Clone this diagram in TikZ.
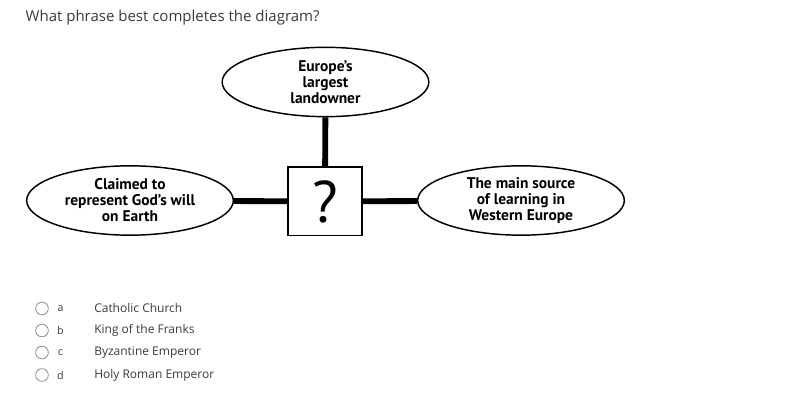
\documentclass[tikz,border=0pt]{standalone}
\usepackage{fontspec}
\setmainfont{Open Sans}
\newfontfamily\boxfont{PT Sans}
\usetikzlibrary{shapes.geometric}
\definecolor{textgray}{HTML}{3A3A3A}
\definecolor{radiogray}{HTML}{8A8A8A}
\newcommand{\makeoption}[4]{
	\node[radio] (#1) at (42,#2) {};
	\node[letter] (#1l) at (60.5,#2) {#3};
	\node[answer] (#1t) at (94,#2) {#4};
}

\begin{document}
\begin{tikzpicture}[x=0.75pt,y=-0.75pt,
	idea/.style={ellipse, draw, line width=1.1pt, inner sep=0pt,
		minimum width=155pt, minimum height=52pt,
		align=center, font=\boxfont\bfseries\fontsize{11.6}{12}\selectfont},
	unknown/.style={draw, line width=1pt, minimum width=55.5pt, minimum height=51.5pt,
		inner sep=0pt, font=\boxfont\fontsize{44}{44}\selectfont},
	link/.style={line width=4.4pt},
	radio/.style={circle, draw=radiogray, line width=0.6pt, minimum size=9.5pt, inner sep=0pt},
	letter/.style={text=textgray, font=\fontsize{8}{9}\selectfont},
	answer/.style={anchor=west, inner sep=0pt, text=textgray, font=\fontsize{9}{10}\selectfont}]
	\useasboundingbox (0,0) rectangle (788,409);

	\node[anchor=base west, text=textgray, font=\fontsize{11.25}{13}\selectfont] (question) at (21,22) {What phrase best completes the diagram?};

	\node[unknown] (mystery) at (325,201.5) {?};
	\node[idea] (landowner) at (325.5,82) {Europe’s\\largest\\landowner};
	\node[idea] (represent) at (130,200.5) {Claimed to\\represent God’s will\\on Earth};
	\node[idea] (learning) at (521,200.5) {The main source\\of learning in\\Western Europe};

	\draw[link] (landowner) -- (mystery);
	\draw[link] (represent) -- (mystery);
	\draw[link] (mystery) -- (learning);

	\makeoption{opta}{308.5}{a}{Catholic Church}
	\makeoption{optb}{330.5}{b}{King of the Franks}
	\makeoption{optc}{352.5}{c}{Byzantine Emperor}
	\makeoption{optd}{375}{d}{Holy Roman Emperor}
\end{tikzpicture}
\end{document}
